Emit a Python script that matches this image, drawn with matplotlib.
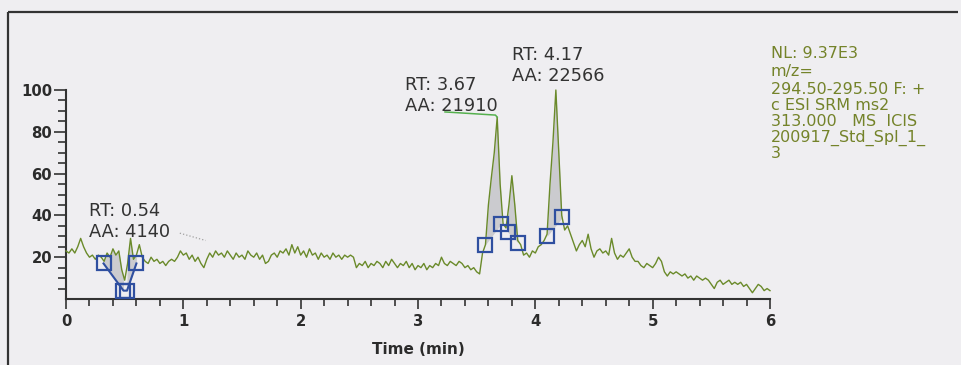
import numpy as np
import matplotlib
matplotlib.use('Agg')
import matplotlib.pyplot as plt
from matplotlib.lines import Line2D

# chromatogram trace, relative abundance (%) sampled every 0.025 min from 0 to 6 min
step = 0.025
abundance = [
    23, 22, 24, 22, 25, 29, 25, 22, 20, 21, 19, 21, 20, 18, 22, 20, 24, 21, 23, 14,   # 0.0 - 0.475
    9, 17, 29, 19, 21, 26, 20, 18, 17, 20, 18, 19, 17, 18, 16, 18, 19, 18, 20, 23,    # 0.5 - 0.975
    21, 22, 19, 21, 18, 20, 17, 15, 19, 22, 20, 23, 21, 22, 20, 23, 21, 19, 22, 20,   # 1.0
    21, 19, 23, 21, 20, 22, 19, 21, 17, 18, 21, 22, 20, 23, 22, 24, 21, 26, 22, 25,   # 1.5
    21, 23, 20, 24, 21, 22, 19, 22, 20, 21, 19, 22, 20, 21, 19, 21, 20, 21, 20, 15,   # 2.0
    17, 16, 18, 15, 17, 16, 18, 17, 15, 18, 16, 19, 17, 15, 17, 16, 18, 15, 17, 14,   # 2.5
    16, 15, 17, 14, 16, 15, 17, 16, 20, 17, 16, 18, 17, 16, 18, 17, 15, 16, 14, 15,   # 3.0
    13, 12, 22, 26, 45, 58, 70, 87, 55, 36, 34, 45, 59, 45, 28, 26, 21, 22, 20, 23,   # 3.5
    22, 25, 26, 28, 31, 55, 75, 100, 70, 40, 33, 35, 31, 27, 23, 26, 28, 25, 31, 24,  # 4.0
    20, 23, 24, 22, 23, 21, 29, 22, 19, 21, 20, 22, 24, 20, 18, 18, 16, 15, 17, 16,   # 4.5
    15, 17, 20, 18, 13, 11, 13, 12, 13, 12, 11, 12, 10, 11, 9, 11, 10, 9, 10, 9,      # 5.0
    7, 5, 8, 9, 7, 8, 9, 7, 8, 7, 8, 6, 7, 5, 3, 5, 7, 6, 4, 5,                       # 5.5
    4,                                                                                # 6.0
]
time = np.arange(len(abundance)) * step

# peak start/apex/end markers (time, abundance)
peak1_marks_t = [0.32, 0.49, 0.52, 0.60]
peak1_marks_y = [17, 4, 4, 17]
peak2_marks_t = [3.575, 3.71, 3.765, 3.85]
peak2_marks_y = [26, 36, 32, 27]
peak3_marks_t = [4.10, 4.23]
peak3_marks_y = [30, 39]

# peak labels
peak_rt = ["0.54", "3.67", "4.17"]
peak_area = ["4140", "21910", "22566"]

header_lines = ["NL: 9.37E3", "m/z=", "294.50-295.50 F: +", "c ESI SRM ms2",
                "313.000   MS  ICIS", "200917_Std_Spl_1_", "3"]

W, H = 962, 365
bg = '#efeef1'
green = '#6a8a2a'
blue = '#2f4fa0'
ink = '#2b2b2b'


def fx(px):
    return px / W


def fy(py):
    return 1 - py / H


fig = plt.figure(figsize=(W / 100, H / 100), dpi=100, facecolor=bg)
ax = fig.add_axes([fx(66), fy(299), (770 - 66) / W, (299 - 90) / H])
ax.set_facecolor(bg)

# frame of the printout (top and left edges only)
fig.add_artist(Line2D([fx(8), fx(958)], [fy(12), fy(12)], color='#333333', lw=1.6,
                      solid_capstyle='butt'))
fig.add_artist(Line2D([fx(8), fx(8)], [fy(12), 0], color='#333333', lw=1.6,
                      solid_capstyle='butt'))

t = np.array(time)
y = np.array(abundance, dtype=float)


def shade(t0, y0, t1, y1):
    # grey integrated area between the trace and the straight baseline
    m = (t >= t0) & (t <= t1)
    tt = np.concatenate([[t0], t[m], [t1]])
    yy = np.interp(tt, t, y)
    base = np.interp(tt, [t0, t1], [y0, y1])
    ax.fill_between(tt, base, yy, color='#cbcbcf', lw=0, zorder=1)


shade(peak1_marks_t[0], peak1_marks_y[0], peak1_marks_t[1], peak1_marks_y[1])
shade(peak1_marks_t[2], peak1_marks_y[2], peak1_marks_t[3], peak1_marks_y[3])
shade(peak2_marks_t[0], peak2_marks_y[0], peak2_marks_t[1], peak2_marks_y[1])
shade(peak2_marks_t[2], peak2_marks_y[2], peak2_marks_t[3], peak2_marks_y[3])
shade(peak3_marks_t[0], peak3_marks_y[0], peak3_marks_t[1], peak3_marks_y[1])

ax.plot(t, y, color=green, lw=1.0, zorder=3, clip_on=False)

# baseline lines of the first peak
ax.plot(peak1_marks_t, peak1_marks_y, color=blue, lw=1.5, zorder=4)
for mt, my in [(peak1_marks_t, peak1_marks_y), (peak2_marks_t, peak2_marks_y),
               (peak3_marks_t, peak3_marks_y)]:
    ax.plot(mt, my, ls='none', marker='s', ms=10.5, mfc='none', mec=blue,
            mew=1.6, zorder=5, clip_on=False)

# leader line of the RT 3.67 label
ax.plot([3.23, 3.66, 3.675], [89.5, 88, 87], color='#55b04e', lw=1.1, zorder=4,
        clip_on=False)
# faint dotted mark next to AA: 4140
ax.plot([0.97, 1.19], [31.5, 28], color='#a0a0a0', lw=0.9, ls=':', zorder=2)

ax.set_xlim(0, 6)
ax.set_ylim(0, 100)
for s in ['top', 'right']:
    ax.spines[s].set_visible(False)
for s in ['left', 'bottom']:
    ax.spines[s].set_color('#333333')
    ax.spines[s].set_linewidth(1.5)

ax.set_xticks(range(0, 7))
ax.set_xticks(np.arange(0, 6.01, 0.2), minor=True)
ax.set_yticks([20, 40, 60, 80, 100])
ax.set_yticks(np.arange(5, 100, 5), minor=True)
ax.tick_params(axis='x', which='major', length=7, width=1.2, pad=4, colors='#333333',
               labelcolor=ink, labelsize=10.7)
ax.tick_params(axis='x', which='minor', length=5, width=1.2, colors='#333333')
ax.tick_params(axis='y', which='major', length=9, width=1.2, pad=1, colors='#333333',
               labelcolor=ink, labelsize=10.7)
ax.tick_params(axis='y', which='minor', length=5.5, width=1.2, colors='#333333')
for lab in ax.get_xticklabels() + ax.get_yticklabels():
    lab.set_fontweight('bold')
ax.set_xlabel('Time (min)', fontsize=11, fontweight='bold', color=ink, labelpad=9)

# peak annotations (pixel positions of the first text line baseline)
label_pos = [(89, 216), (405, 90), (512, 60)]
for (px, py), rt, area in zip(label_pos, peak_rt, peak_area):
    fig.text(fx(px), fy(py), "RT: " + rt, fontsize=12.8, color='#333333', va='baseline')
    fig.text(fx(px), fy(py + 21), "AA: " + area, fontsize=12.8, color='#333333',
             va='baseline')

# scan header on the right
header_base = [58, 76, 94, 110, 126, 142, 158]
for line, py in zip(header_lines, header_base):
    fig.text(fx(771), fy(py), line, fontsize=11.5, color='#74832a', va='baseline')

fig.savefig('out.png', dpi=100, facecolor=bg)
